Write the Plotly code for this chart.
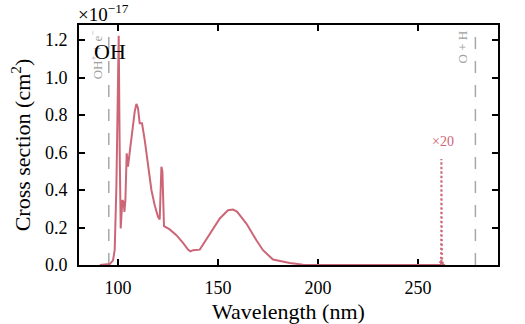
import plotly.graph_objects as go

# Photoabsorption cross section of OH, in units of 1e-17 cm^2
wavelength = [
    90.9, 95.9, 97.5, 98.35, 99.2, 100.0, 100.35, 100.85, 101.35, 102.2,
    102.85, 103.2, 103.7, 104.35, 105.0, 105.7, 107.2, 108.35, 109.2, 110.0,
    110.85, 112.0, 113.35, 115.0, 116.7, 118.35, 120.0, 120.85, 121.7, 122.2,
    123.0, 125.85, 129.2, 132.5, 135.0, 136.2, 137.5, 140.9, 145.9, 150.9,
    155.0, 157.5, 159.5, 164.2, 169.2, 172.5, 177.5, 185.9, 192.5, 220.0,
    250.0, 260.5,
]
sigma = [
    0.0, 0.005, 0.025, 0.08, 0.42, 0.95, 1.223, 0.6, 0.195, 0.346,
    0.337, 0.283, 0.346, 0.596, 0.524, 0.587, 0.738, 0.818, 0.859, 0.836,
    0.756, 0.756, 0.667, 0.524, 0.4, 0.319, 0.257, 0.243, 0.524, 0.5,
    0.207, 0.19, 0.159, 0.118, 0.082, 0.073, 0.079, 0.082, 0.168, 0.248,
    0.292, 0.296, 0.285, 0.221, 0.132, 0.079, 0.029, 0.011, 0.002, 0.0,
    0.0, 0.0,
]

# Weak long-wavelength feature, also drawn magnified
tail_wl = [261.0, 261.5, 261.65, 261.7, 261.75, 261.8, 261.9, 262.1, 262.5, 263.5]
tail_sigma = [0.0005, 0.0015, 0.01, 0.02825, 0.02, 0.0125, 0.006, 0.0015, 0.0002, 0.0]
tail_scale = 20

# Dissociation / ionisation thresholds (nm)
threshold_wl = [95.4, 278.7]
threshold_labels = ["OH<sup>+</sup> + e<sup>−</sup>", "O + H"]

species = "OH"
color = "#CC6677"
font_family = "Liberation Serif, DejaVu Serif, serif"

wl_full = wavelength + tail_wl
sigma_full = sigma + tail_sigma
tail_scaled = [s * tail_scale for s in tail_sigma]

fig = go.Figure()

for wl in threshold_wl:
    fig.add_trace(go.Scatter(
        x=[wl, wl], y=[0, 1.28], mode="lines",
        line=dict(color="#a8a8a8", width=1.5, dash="12px,12px"),
        hoverinfo="skip", showlegend=False,
    ))

fig.add_trace(go.Scatter(
    x=wl_full, y=sigma_full, mode="lines",
    line=dict(color=color, width=2), showlegend=False,
))
fig.add_trace(go.Scatter(
    x=tail_wl, y=tail_scaled, mode="lines",
    line=dict(color=color, width=2, dash="2px,2.5px"), showlegend=False,
))

annotations = []
for wl, lab in zip(threshold_wl, threshold_labels):
    annotations.append(dict(
        x=wl, xref="x", y=1, yref="paper", text=lab, showarrow=False,
        textangle=-90, xanchor="right", yanchor="top", xshift=-3, yshift=-3,
        font=dict(family=font_family, size=13, color="#a0a0a0"),
    ))

peak_i = tail_scaled.index(max(tail_scaled))
annotations.append(dict(
    x=tail_wl[peak_i], xref="x", y=tail_scaled[peak_i], yref="y",
    text="×" + str(tail_scale), showarrow=False, xanchor="center",
    yanchor="bottom", xshift=2, yshift=8,
    font=dict(family=font_family, size=14, color=color),
))
annotations.append(dict(
    x=0.03, xref="paper", y=1, yref="paper", text=species, showarrow=False,
    xanchor="left", yanchor="top", yshift=-12,
    font=dict(family=font_family, size=22, color="black"),
))
annotations.append(dict(
    x=0, xref="paper", y=1, yref="paper", text="×10<sup>−17</sup>",
    showarrow=False, xanchor="left", yanchor="bottom", xshift=-3, yshift=-2,
    font=dict(family=font_family, size=19, color="black"),
))

axis_common = dict(
    showline=True, linecolor="black", linewidth=2, mirror="ticks",
    ticks="inside", ticklen=6, tickwidth=1.5, tickcolor="black",
    showgrid=False, zeroline=False, layer="below traces", automargin=False,
    tickfont=dict(family=font_family, size=18, color="black"),
)

fig.update_layout(
    width=525, height=324, autosize=False,
    margin=dict(l=79, r=27, t=25, b=59),
    paper_bgcolor="white", plot_bgcolor="white",
    annotations=annotations,
    xaxis=dict(
        range=[80.5, 290], tickvals=[100, 150, 200, 250],
        ticklabelstandoff=5,
        title=dict(text="Wavelength (nm)", standoff=10,
                   font=dict(family=font_family, size=22, color="black")),
        **axis_common,
    ),
    yaxis=dict(
        range=[0, 1.28], tickvals=[0, 0.2, 0.4, 0.6, 0.8, 1.0, 1.2],
        tickformat=".1f", ticklabelstandoff=6,
        title=dict(text="Cross section (cm<sup>2</sup>)", standoff=8,
                   font=dict(family=font_family, size=22, color="black")),
        **axis_common,
    ),
)

fig.write_html("out.html")
